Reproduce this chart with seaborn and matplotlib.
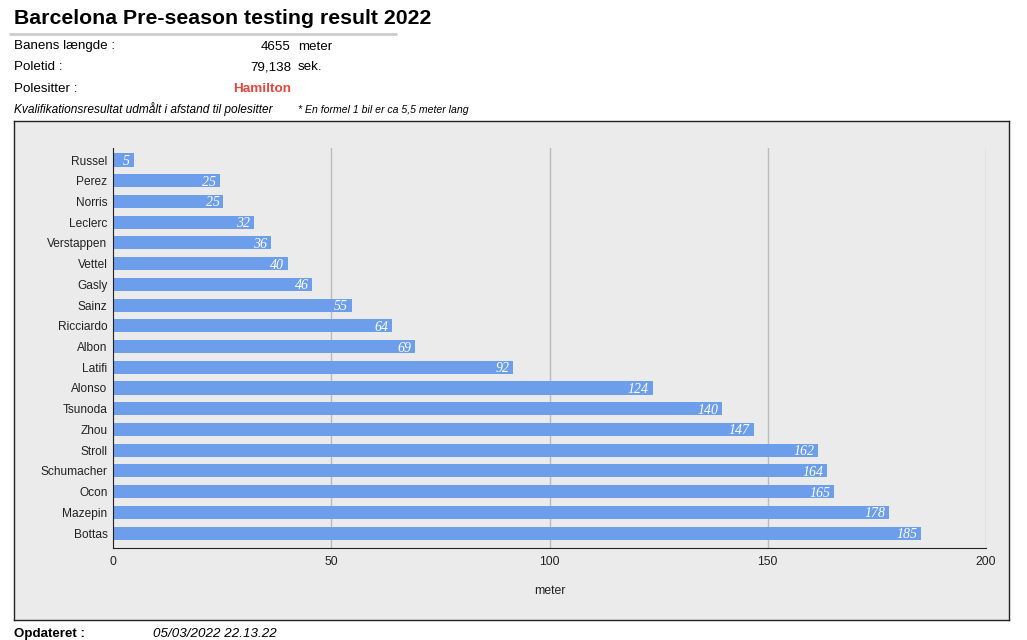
import matplotlib
matplotlib.use("Agg")
import matplotlib.pyplot as plt
import seaborn as sns
import pandas as pd
from matplotlib.lines import Line2D

drivers = ["Russel", "Perez", "Norris", "Leclerc", "Verstappen", "Vettel", "Gasly",
           "Sainz", "Ricciardo", "Albon", "Latifi", "Alonso", "Tsunoda", "Zhou",
           "Stroll", "Schumacher", "Ocon", "Mazepin", "Bottas"]
distance = [4.8, 24.6, 25.3, 32.3, 36.2, 40.1, 45.7, 54.8, 63.9, 69.2, 91.7,
            123.6, 139.6, 146.8, 161.6, 163.6, 165.2, 177.8, 185.1]
x_ticks = [0, 50, 100, 150, 200]

title = "Barcelona Pre-season testing result 2022"
info_labels = ["Banens længde :", "Poletid :", "Polesitter :"]
info_values = ["4655", "79,138", "Hamilton"]
info_units = ["meter", "sek.", ""]
note_left = "Kvalifikationsresultat udmålt i afstand til polesitter"
note_right = "* En formel 1 bil er ca 5,5 meter lang"
updated_label = "Opdateret :"
updated_value = "05/03/2022 22.13.22"

df = pd.DataFrame({"driver": drivers, "distance": distance})

sns.set_style("white")
plt.rcParams["font.family"] = ["Liberation Sans", "DejaVu Sans"]

W, H = 1027, 640
fig = plt.figure(figsize=(W / 100, H / 100), dpi=100)

def fx(px):
    return px / W

def fy(py):
    return 1 - py / H

# chart frame (background axes)
frame = fig.add_axes([fx(14), fy(620), fx(1009) - fx(14), fy(121) - fy(620)], zorder=-1)
frame.set_facecolor("#ebebeb")
frame.set_xticks([])
frame.set_yticks([])
for s in frame.spines.values():
    s.set_color("#222222")
    s.set_linewidth(1.0)

ax = fig.add_axes([fx(113), fy(548), fx(986) - fx(113), fy(148) - fy(548)], zorder=1)
ax.set_facecolor("none")
sns.barplot(data=df, x="distance", y="driver", orient="h", color="#6d9eeb",
            saturation=1, width=0.63, linewidth=0, ax=ax, zorder=3)
ax.set_xlim(0, 200)
ax.set_ylim(18.72, -0.58)
ax.set_xticks(x_ticks)
ax.set_xticklabels([str(t) for t in x_ticks], fontsize=8.8, color="#222222")
ax.tick_params(axis="x", length=0, pad=6)
ax.tick_params(axis="y", length=0, pad=4, labelsize=8.6, labelcolor="#222222")
for t in x_ticks[1:]:
    ax.axvline(t, color="#bbbbbb", linewidth=1.0, zorder=1)
for s in ["top", "right"]:
    ax.spines[s].set_visible(False)
ax.spines["left"].set_color("#222222")
ax.spines["bottom"].set_color("#222222")
ax.spines["left"].set_zorder(4)
ax.set_xlabel("meter", fontsize=8.8, color="#222222", labelpad=12)
ax.set_ylabel("")

for p, v in zip(ax.patches, distance):
    ax.text(p.get_x() + p.get_width() - 0.9, p.get_y() + p.get_height() / 2,
            f"{round(v)}", ha="right", va="center_baseline", color="white",
            fontsize=10, fontstyle="italic", family=["Liberation Serif", "DejaVu Serif"],
            zorder=5)

# header
fig.text(fx(14), fy(18), title, fontsize=15.3, fontweight="bold", ha="left", va="center",
         color="#000000")
fig.add_artist(Line2D([fx(10), fx(396)], [fy(34), fy(34)], transform=fig.transFigure,
                      color="#cccccc", linewidth=2))
for i, (lab, val, unit) in enumerate(zip(info_labels, info_values, info_units)):
    y = fy(49.5 + 21 * i)
    fig.text(fx(14), y, lab, fontsize=9.6, ha="left", va="baseline", color="#000000")
    if lab.startswith("Polesitter"):
        fig.text(fx(291), y, val, fontsize=9.7, ha="right", va="baseline",
                 color="#e8453c", fontweight="bold")
    else:
        fig.text(fx(291), y, val, fontsize=9.6, ha="right", va="baseline", color="#000000")
    if unit:
        fig.text(fx(298), y, unit, fontsize=9.6, ha="left", va="baseline", color="#000000")
fig.text(fx(14), fy(109), note_left, fontsize=8.55, fontstyle="italic", ha="left",
         va="center", color="#000000")
fig.text(fx(298), fy(110), note_right, fontsize=7.6, fontstyle="italic", ha="left",
         va="center", color="#000000")

# footer
fig.text(fx(14), fy(634), updated_label, fontsize=9.6, fontweight="bold", ha="left",
         va="center", color="#000000")
fig.text(fx(153), fy(634), updated_value, fontsize=9.6, fontstyle="italic", ha="left",
         va="center", color="#000000")

fig.savefig("out.png", dpi=100, facecolor="white")
